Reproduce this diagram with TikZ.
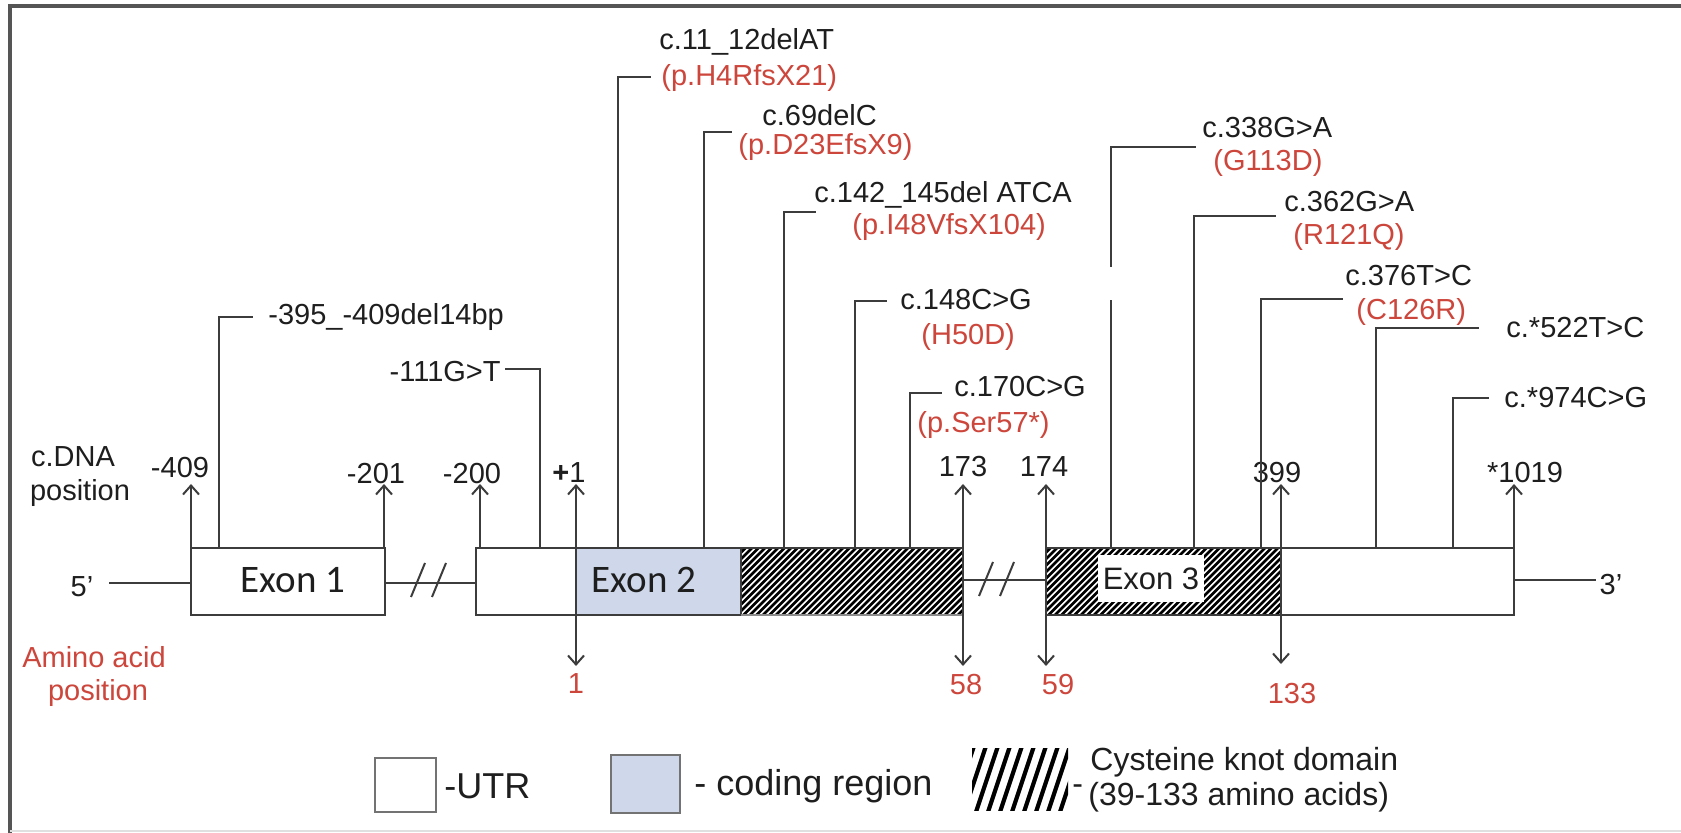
\documentclass[tikz,border=0pt]{standalone}
\usepackage{fontspec}
\setmainfont{Liberation Sans}
\newfontfamily\calib{Carlito}
\usetikzlibrary{arrows.meta}
\definecolor{txt}{RGB}{30,30,30}
\definecolor{ln}{RGB}{60,60,60}
\definecolor{redt}{RGB}{205,70,60}
\definecolor{blu}{RGB}{206,216,234}
\definecolor{frm}{RGB}{85,85,85}
\begin{document}
\begin{tikzpicture}[x=0.5pt,y=-0.5pt,
  lab/.style={font=\fontsize{14.5}{17}\selectfont, text=txt, inner sep=0pt},
  rlab/.style={lab, text=redt},
  leg/.style={font=\fontsize{18}{21}\selectfont, text=txt, inner sep=0pt, anchor=west},
  exlab/.style={font=\calib\fontsize{19.5}{22}\selectfont, text=txt, inner sep=0pt},
  conn/.style={draw=ln, line width=1pt},
  boxline/.style={draw=ln, line width=1.1pt},
  hatchln/.style={black, line width=1.25pt},
  posup/.style={draw=ln, line width=1pt, -{Straight Barb[length=4.5pt,width=8pt]}},
  posboth/.style={draw=ln, line width=1pt, {Straight Barb[length=4.5pt,width=8pt]}-{Straight Barb[length=4.5pt,width=8pt]}}
]
\useasboundingbox (0,0) rectangle (1681,833);
\fill[white] (0,0) rectangle (1681,833);
% frame
\draw[frm, line width=1.6pt] (10,833) -- (10,6) -- (1681,6);
\draw[black!12, line width=0.8pt] (10,831) -- (1681,831);

% ---------- boxes (fills) ----------
\fill[white] (191,548) rectangle (385,615);
\fill[white] (476,548) rectangle (576,615);
\fill[blu] (576,548) rectangle (741,615);
\fill[white] (741,548) rectangle (963,615);
\fill[white] (1046,548) rectangle (1514,615);
% hatch exon 2
\begin{scope}
\clip (741,549) rectangle (963,614);
\foreach \i in {672,678.5,...,970} \draw[hatchln] (\i,615) -- ++(67,-67);
\end{scope}
% hatch exon 3
\begin{scope}
\clip (1046,549) rectangle (1281,614);
\foreach \i in {977,983.5,...,1290} \draw[hatchln] (\i,615) -- ++(67,-67);
\end{scope}
\node[font=\fontsize{15.5}{18}\selectfont, text=txt, inner sep=0pt, fill=white, minimum width=53pt, minimum height=23.5pt] (ex3) at (1151,579) {Exon 3};

% box outlines
\draw[boxline] (191,548) rectangle (385,615);
\draw[boxline] (476,548) rectangle (576,615);
\draw[boxline] (576,548) rectangle (741,615);
\draw[boxline] (741,548) -- (963,548);
\draw[boxline, draw=black!45] (741,615) -- (963,615);
\draw[boxline] (963,548) -- (963,615);
\draw[boxline] (1046,548) rectangle (1281,615);
\draw[boxline] (1281,548) rectangle (1514,615);

\node[exlab] (ex1) at (293,580) {Exon 1};
\node[exlab] (ex2) at (644,580) {Exon 2};

% ---------- backbone lines ----------
\node[lab] (p5) at (82,587) {5'};
\node[lab] (p3) at (1611,585) {3'};
\coordinate (e1l) at (191,583);
\coordinate (l5) at (109,583);
\draw[conn] (l5) -- (e1l);
\coordinate (e1r) at (385,583);
\coordinate (e2l) at (476,583);
\draw[conn] (e1r) -- (e2l);
\draw[conn] (411,597) -- (425,563);
\draw[conn] (432,597) -- (446,563);
\coordinate (e2r) at (963,580);
\coordinate (e3l) at (1046,580);
\draw[conn] (e2r) -- (e3l);
\draw[conn] (979,596) -- (993,562);
\draw[conn] (1000,596) -- (1014,562);
\coordinate (e3r) at (1514,580);
\coordinate (r3) at (1596,580);
\draw[conn] (e3r) -- (r3);

% ---------- position labels ----------
\node[lab] (cdna) at (73,457) {c.DNA};
\node[lab] (cdnb) at (80,493) {position};
\node[rlab] (aaa) at (94,657) {Amino acid};
\node[rlab] (aab) at (98,693) {position};

\node[lab] (t409) at (180,468) {-409};
\node[lab] (t201) at (376,474) {-201};
\node[lab] (t200) at (472,474) {-200};
\node[lab] (t1) at (569,473) {\textbf{+}1};
\node[lab] (t173) at (963,467) {173};
\node[lab] (t174) at (1044,467) {174};
\node[lab] (t399) at (1277,473) {399};
\node[lab] (t1019) at (1525,473) {*1019};
\node[rlab] (a1) at (576,684) {1};
\node[rlab] (a58) at (966,685) {58};
\node[rlab] (a59) at (1058,685) {59};
\node[rlab] (a133) at (1292,694) {133};

\coordinate (b409) at (191,548); \coordinate (u409) at (191,484);
\coordinate (b201) at (384,548); \coordinate (u201) at (384,484);
\coordinate (b200) at (480,548); \coordinate (u200) at (480,484);
\coordinate (u1) at (576,484); \coordinate (d1) at (576,666);
\coordinate (u173) at (963,484); \coordinate (d173) at (963,666);
\coordinate (u174) at (1046,484); \coordinate (d174) at (1046,666);
\coordinate (u399) at (1281,484); \coordinate (d399) at (1281,664);
\coordinate (b1019) at (1514,548); \coordinate (u1019) at (1514,484);
\draw[posup] (b409) -- (u409);
\draw[posup] (b201) -- (u201);
\draw[posup] (b200) -- (u200);
\draw[posboth] (d1) -- (u1);
\draw[posboth] (d173) -- (u173);
\draw[posboth] (d174) -- (u174);
\draw[posboth] (d399) -- (u399);
\draw[posup] (b1019) -- (u1019);

% ---------- mutation labels ----------
\node[lab, anchor=west] (L1) at (268,317) {-395\_-409del14bp};
\node[lab, anchor=east] (L2) at (501,372) {-111G>T};
\node[lab, anchor=west] (M1b) at (659,42) {c.11\_12delAT};
\node[rlab, anchor=west] (M1r) at (661,78) {(p.H4RfsX21)};
\node[lab, anchor=west] (M2b) at (762,115) {c.69delC};
\node[rlab, anchor=west] (M2r) at (738,147) {(p.D23EfsX9)};
\node[lab, anchor=west] (M3b) at (814,195) {c.142\_145del ATCA};
\node[rlab, anchor=west] (M3r) at (852,227) {(p.I48VfsX104)};
\node[lab, anchor=west] (M4b) at (900,300) {c.148C>G};
\node[rlab, anchor=west] (M4r) at (921,337) {(H50D)};
\node[lab, anchor=west] (M5b) at (954,387) {c.170C>G};
\node[rlab, anchor=west] (M5r) at (917,425) {(p.Ser57*)};
\node[lab, anchor=west] (M6b) at (1202,128) {c.338G>A};
\node[rlab, anchor=west] (M6r) at (1213,163) {(G113D)};
\node[lab, anchor=west] (M7b) at (1284,202) {c.362G>A};
\node[rlab, anchor=west] (M7r) at (1293,237) {(R121Q)};
\node[lab, anchor=west] (M8b) at (1345,276) {c.376T>C};
\node[rlab, anchor=west] (M8r) at (1356,312) {(C126R)};
\node[lab, anchor=west] (M9) at (1506,328) {c.*522T>C};
\node[lab, anchor=west] (M10) at (1504,398) {c.*974C>G};

% callout connectors
\coordinate (cL1) at (219,548); \coordinate (kL1) at (253,317);
\coordinate (cL2) at (540,548); \coordinate (kL2) at (505,369);
\coordinate (c1) at (618,548); \coordinate (k1) at (651,77);
\coordinate (c2) at (704,548); \coordinate (k2) at (732,132);
\coordinate (c3) at (784,548); \coordinate (k3) at (816,212);
\coordinate (c4) at (855,548); \coordinate (k4) at (887,301);
\coordinate (c5) at (910,548); \coordinate (k5) at (942,393);
\coordinate (c6) at (1111,548); \coordinate (g6a) at (1111,300); \coordinate (g6b) at (1111,267); \coordinate (k6) at (1196,147);
\coordinate (c7) at (1194,548); \coordinate (k7) at (1276,216);
\coordinate (c8) at (1261,548); \coordinate (k8) at (1343,299);
\coordinate (c9) at (1376,548); \coordinate (k9) at (1479,328);
\coordinate (c10) at (1453,548); \coordinate (k10) at (1489,398);
\draw[conn] (cL1) |- (kL1);
\draw[conn] (cL2) |- (kL2);
\draw[conn] (c1) |- (k1);
\draw[conn] (c2) |- (k2);
\draw[conn] (c3) |- (k3);
\draw[conn] (c4) |- (k4);
\draw[conn] (c5) |- (k5);
\draw[conn] (c6) -- (g6a);
\draw[conn] (g6b) |- (k6);
\draw[conn] (c7) |- (k7);
\draw[conn] (c8) |- (k8);
\draw[conn] (c9) |- (k9);
\draw[conn] (c10) |- (k10);

% ---------- legend ----------
\node[draw=black!55, line width=1.2pt, fill=white, minimum width=30.5pt, minimum height=27pt, inner sep=0pt] (lgU) at (405.5,785) {};
\node[leg] (lgUt) at (444,786) {-UTR};
\node[draw=black!55, line width=1.2pt, fill=blu, minimum width=34.5pt, minimum height=29pt, inner sep=0pt] (lgC) at (645.5,784) {};
\node[leg] (lgCt) at (694,786) {- coding region};
\begin{scope}
\clip (972,748) rectangle (1068,810);
\foreach \i in {940,952,...,1080} \draw[black, line width=2.1pt] (\i,812) -- ++(22,-66);
\end{scope}
\node[leg, font=\fontsize{16}{19}\selectfont] (lgH0) at (1072,790) {-};
\node[leg, font=\fontsize{16}{19}\selectfont] (lgH1) at (1090,762) {Cysteine knot domain};
\node[leg, font=\fontsize{16}{19}\selectfont] (lgH2) at (1088,797) {(39-133 amino acids)};
\end{tikzpicture}
\end{document}
